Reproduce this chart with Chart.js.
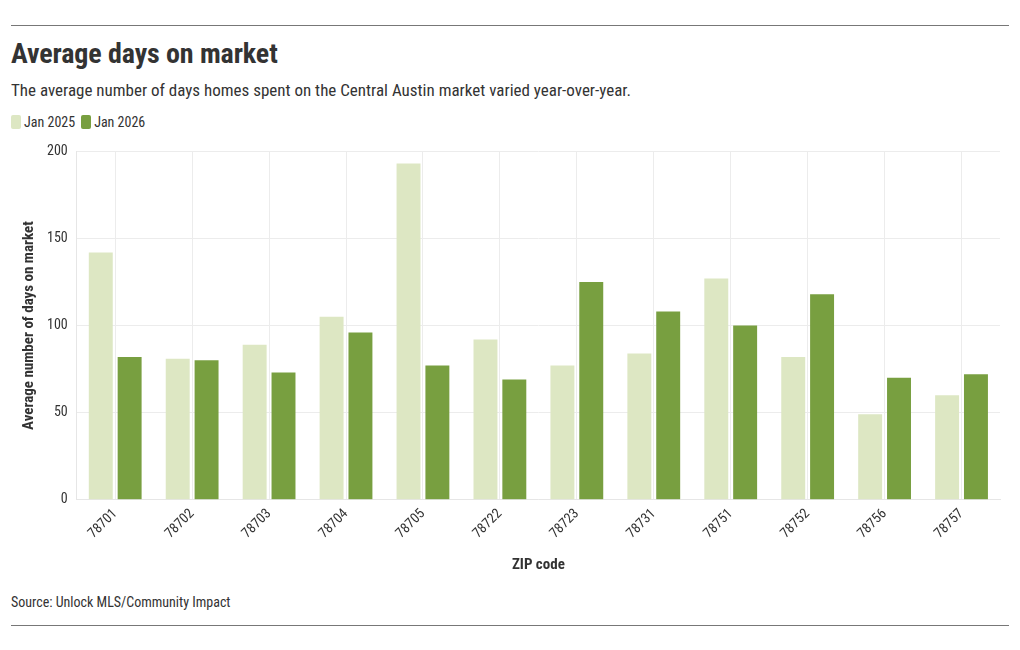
<!DOCTYPE html>
<html>
<head>
<meta charset="utf-8">
<script src="https://cdn.jsdelivr.net/npm/chart.js@4"></script>
<style>
  html, body { margin: 0; padding: 0; background: #fff; }
  body { width: 1020px; height: 650px; position: relative; overflow: hidden;
         font-family: "Roboto Condensed", "Liberation Sans Narrow", "Roboto", sans-serif; color: #333; }
  .rule { position: absolute; left: 11px; width: 998px; height: 0; border-top: 1px solid #777; }
  #title { position: absolute; left: 11px; top: 37px; font-size: 28px; font-weight: bold; color: #333; letter-spacing: -0.1px; }
  #subtitle { position: absolute; left: 11px; top: 80px; font-size: 17px; color: #333; }
  #legend { position: absolute; left: 11px; top: 114px; font-size: 14px; color: #333; display: flex; align-items: center; }
  #legend .sw { display: inline-block; width: 10px; height: 14px; border-radius: 2px; margin-right: 3px; }
  #legend .item { display: flex; align-items: center; margin-right: 6px; }
  #source { position: absolute; left: 11px; top: 594px; font-size: 14px; color: #333; }
  #wrap { position: absolute; left: 11px; top: 134px; width: 998px; height: 444px; }
</style>
</head>
<body>
<div class="rule" style="top:25px"></div>
<div id="title">Average days on market</div>
<div id="subtitle">The average number of days homes spent on the Central Austin market varied year-over-year.</div>
<div id="legend"></div>
<div id="wrap"><canvas id="c"></canvas></div>
<div id="source">Source: Unlock MLS/Community Impact</div>
<div class="rule" style="top:625px"></div>
<script>
const categories = ["78701","78702","78703","78704","78705","78722","78723","78731","78751","78752","78756","78757"];
const seriesNames = ["Jan 2025", "Jan 2026"];
const jan2025 = [142, 81, 89, 105, 193, 92, 77, 84, 127, 82, 49, 60];
const jan2026 = [82, 80, 73, 96, 77, 69, 125, 108, 100, 118, 70, 72];
const yTicks = [0, 50, 100, 150, 200];
const colors = ["#dde7c3", "#789f40"];

const FONT = '"Roboto Condensed", "Liberation Sans Narrow", "Roboto", sans-serif';

const legend = document.getElementById('legend');
seriesNames.forEach((n, i) => {
  const it = document.createElement('span');
  it.className = 'item';
  it.innerHTML = '<span class="sw" style="background:' + colors[i] + '"></span>' + n;
  legend.appendChild(it);
});

new Chart(document.getElementById('c'), {
  type: 'bar',
  data: {
    labels: categories,
    datasets: [
      { label: seriesNames[0], data: jan2025, backgroundColor: colors[0] },
      { label: seriesNames[1], data: jan2026, backgroundColor: colors[1] }
    ]
  },
  options: {
    responsive: true,
    maintainAspectRatio: false,
    animation: false,
    layout: { padding: { top: 0, right: 9, left: 5, bottom: 0 } },
    datasets: { bar: { categoryPercentage: 0.75, barPercentage: 0.83 } },
    plugins: { legend: { display: false }, tooltip: { enabled: false } },
    scales: {
      x: {
        grid: { offset: false, color: '#ececec', drawTicks: false },
        border: { color: '#e6e6e6' },
        ticks: { color: '#333', font: { family: FONT, size: 14 }, maxRotation: 45, minRotation: 45, padding: 6 },
        title: { display: true, text: 'ZIP code', color: '#333', font: { family: FONT, size: 15, weight: 'bold' }, padding: { top: 8 } }
      },
      y: {
        min: 0, max: 200,
        afterBuildTicks: (ax) => { ax.ticks = yTicks.map(v => ({ value: v })); },
        grid: { color: '#ececec', drawTicks: false },
        border: { color: '#e6e6e6' },
        ticks: { color: '#333', font: { family: FONT, size: 14 }, padding: 9 },
        title: { display: true, text: 'Average number of days on market', color: '#333', font: { family: FONT, size: 15, weight: 'bold' }, padding: { bottom: 0 } }
      }
    }
  }
});
</script>
</body>
</html>
